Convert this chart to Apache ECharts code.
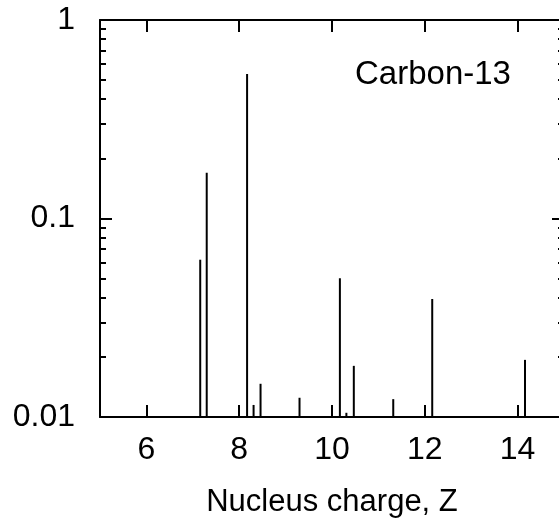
<!DOCTYPE html>
<html>
<head>
<meta charset="utf-8">
<script src="https://cdn.jsdelivr.net/npm/echarts@6/dist/echarts.min.js"></script>
<style>
  html, body { margin: 0; padding: 0; background: #fff; }
  #chart { width: 559px; height: 519px; }
</style>
</head>
<body>
<div id="chart"></div>
<script>
  // line positions (Z) and yields
  const zValues = [7.16, 7.30, 8.17, 8.31, 8.46, 9.30, 10.17, 10.31, 10.47, 11.32, 12.16, 14.16];
  const yields = [0.062, 0.170, 0.535, 0.0115, 0.0147, 0.0125, 0.050, 0.0105, 0.0181, 0.0123, 0.0393, 0.0194];

  const xTicks = [6, 8, 10, 12, 14];
  const yMajor = [0.01, 0.1, 1];
  const yMinor = [0.02, 0.03, 0.04, 0.05, 0.06, 0.07, 0.08, 0.09,
                  0.2, 0.3, 0.4, 0.5, 0.6, 0.7, 0.8, 0.9];

  const xMin = 5, xMax = 15, yMin = 0.01, yMax = 1;
  const font = 'Liberation Sans';

  let chart = echarts.init(document.getElementById('chart'));

  function xAx(pos, showLabel) {
    return {
      type: 'value',
      position: pos,
      min: xMin,
      max: xMax,
      name: showLabel ? 'Nucleus charge, Z' : '',
      nameLocation: 'middle',
      nameGap: 70,
      nameTextStyle: { color: '#000', fontSize: 31, fontFamily: font },
      axisLine: { show: true, onZero: false, lineStyle: { color: '#000', width: 2 } },
      axisTick: { show: true, inside: true, length: 12, customValues: xTicks, lineStyle: { color: '#000', width: 2 } },
      axisLabel: { show: showLabel, customValues: xTicks, color: '#000', fontSize: 32, fontFamily: font, margin: 17 },
      splitLine: { show: false }
    };
  }

  function yAx(pos, ticks, len, main) {
    return {
      type: 'log',
      logBase: 10,
      position: pos,
      min: yMin,
      max: yMax,
      axisLine: { show: main, lineStyle: { color: '#000', width: 2 } },
      axisTick: { show: true, inside: true, length: len, customValues: ticks, lineStyle: { color: '#000', width: 2 } },
      axisLabel: {
        show: main && pos === 'left',
        customValues: yMajor,
        color: '#000', fontSize: 32, fontFamily: font, margin: 25,
        formatter: function (v) { return String(v); }
      },
      splitLine: { show: false },
      minorTick: { show: false }
    };
  }

  chart.setOption({
    animation: false,
    backgroundColor: '#fff',
    title: {
      text: 'Carbon-13',
      left: 350,
      top: 53,
      textStyle: { color: '#000', fontSize: 33, fontWeight: 'normal', fontFamily: font }
    },
    grid: { left: 100, top: 20, width: 464, height: 397, outerBoundsMode: 'none', containLabel: false },
    xAxis: [xAx('bottom', true), xAx('top', false)],
    yAxis: [
      yAx('left', yMajor, 12, true),
      yAx('left', yMinor, 6, false),
      yAx('right', yMajor, 12, true),
      yAx('right', yMinor, 6, false)
    ],
    series: [{
      type: 'custom',
      xAxisIndex: 0,
      yAxisIndex: 0,
      data: zValues.map((z, i) => [z, yields[i]]),
      renderItem: function (params, api) {
        const top = api.coord([api.value(0), api.value(1)]);
        const base = api.coord([api.value(0), yMin]);
        return {
          type: 'line',
          shape: { x1: top[0], y1: base[1], x2: top[0], y2: top[1] },
          style: { stroke: '#000', lineWidth: 2 }
        };
      }
    }]
  });
</script>
</body>
</html>
